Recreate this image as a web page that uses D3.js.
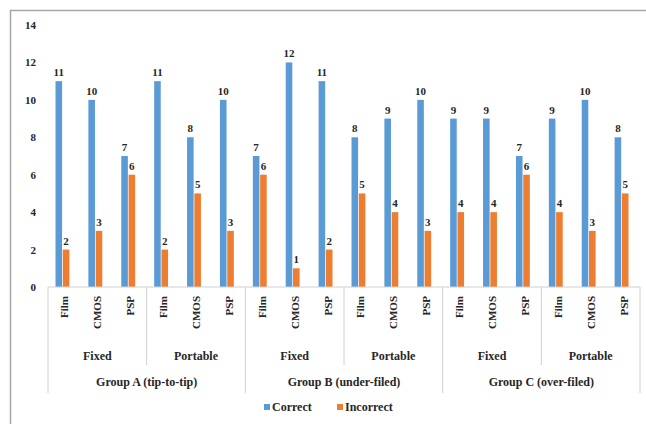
<!DOCTYPE html>
<html>
<head>
<meta charset="utf-8">
<script src="https://cdn.jsdelivr.net/npm/d3@7"></script>
<style>
  body { margin: 0; background: #fff; }
</style>
</head>
<body>
<div id="chart"></div>
<script>
const groups = ["Group A (tip-to-tip)", "Group B (under-filed)", "Group C (over-filed)"];
const setups = ["Fixed", "Portable"];
const detectors = ["Film", "CMOS", "PSP"];
const correct = [11, 10, 7, 11, 8, 10, 7, 12, 11, 8, 9, 10, 9, 9, 7, 9, 10, 8];
const incorrect = [2, 3, 6, 2, 5, 3, 6, 1, 2, 5, 4, 3, 4, 4, 6, 4, 3, 5];
const series = ["Correct", "Incorrect"];
const colors = ["#5b9bd5", "#ed7d31"];
const yTicks = [0, 2, 4, 6, 8, 10, 12, 14];

const width = 646;
const height = 424;
const margin = { top: 25, right: 6, bottom: 137, left: 48 };
const font = "'Times New Roman', 'Liberation Serif', Tinos, 'DejaVu Serif', serif";

const cats = [];
groups.forEach(g => setups.forEach(s => detectors.forEach(d => cats.push({ g, s, d }))));
cats.forEach((c, i) => { c.i = i; c.vals = [correct[i], incorrect[i]]; });

const svg = d3.select("#chart").append("svg")
    .attr("width", width).attr("height", height)
    .style("font-family", font).attr("font-weight", "bold");

// outer frame
svg.append("rect").attr("x", 10.5).attr("y", 10.5).attr("width", width).attr("height", height)
    .attr("fill", "none").attr("stroke", "#a6a6a6").attr("stroke-width", 1.5);

const x = d3.scaleBand().domain(d3.range(cats.length)).range([margin.left, width - margin.right]);
const xs = d3.scaleBand().domain(series).range([0, x.bandwidth()]).paddingInner(0.1).paddingOuter(1.3);
const y = d3.scaleLinear().domain([0, 14]).range([height - margin.bottom, margin.top]);
const y0 = y(0);

svg.append("g").attr("transform", `translate(36,0)`)
    .call(d3.axisLeft(y).tickValues(yTicks).tickSize(0))
    .attr("font-family", null)
    .call(g => g.select(".domain").remove())
    .call(g => g.selectAll("text").attr("font-size", 11).attr("x", 0).attr("fill", "#262626"));

const cg = svg.append("g").selectAll("g").data(cats).join("g")
    .attr("transform", d => `translate(${x(d.i)},0)`);

cg.selectAll("rect").data(d => d.vals.map((v, k) => ({ v, k }))).join("rect")
    .attr("x", d => xs(series[d.k]) - 2)
    .attr("width", xs.bandwidth())
    .attr("y", d => y(d.v))
    .attr("height", d => y0 - y(d.v))
    .attr("fill", d => colors[d.k]);

cg.selectAll("text.val").data(d => d.vals.map((v, k) => ({ v, k }))).join("text")
    .attr("class", "val")
    .attr("x", d => xs(series[d.k]) - 2 + xs.bandwidth() / 2)
    .attr("y", d => y(d.v) - 5)
    .attr("text-anchor", "middle")
    .attr("font-size", 11).attr("fill", "#262626")
    .text(d => d.v);

// category axis
const axisColor = "#d0d0d0";
svg.append("line").attr("x1", margin.left).attr("x2", width - margin.right)
    .attr("y1", y0).attr("y2", y0).attr("stroke", axisColor);

cg.append("text")
    .attr("transform", d => `translate(${x.bandwidth() / 2 + 4},${y0 + 9}) rotate(-90)`)
    .attr("text-anchor", "end")
    .attr("font-size", 11).attr("fill", "#262626")
    .text(d => d.d);

const setupW = x.bandwidth() * detectors.length;
const sub = [];
groups.forEach((g, gi) => setups.forEach((s, si) => sub.push({ s, start: (gi * setups.length + si) * detectors.length })));

sub.forEach(d => {
    const x1 = x(d.start);
    svg.append("text").attr("x", x1 + setupW / 2).attr("y", y0 + 73)
        .attr("text-anchor", "middle").attr("font-size", 12).attr("fill", "#262626").text(d.s);
    if (d.start % 6 !== 0) {
        svg.append("line").attr("x1", x1).attr("x2", x1).attr("y1", y0).attr("y2", y0 + 78)
            .attr("stroke", axisColor);
    }
});

const groupW = setupW * setups.length;
groups.forEach((g, gi) => {
    const x1 = x(gi * 6);
    svg.append("text").attr("x", x1 + groupW / 2).attr("y", y0 + 99)
        .attr("text-anchor", "middle").attr("font-size", 12).attr("fill", "#262626").text(g);
    svg.append("line").attr("x1", x1).attr("x2", x1).attr("y1", y0).attr("y2", y0 + 106)
        .attr("stroke", axisColor);
});
svg.append("line").attr("x1", width - margin.right).attr("x2", width - margin.right)
    .attr("y1", y0).attr("y2", y0 + 106).attr("stroke", axisColor);

// legend
const legend = svg.append("g").attr("transform", "translate(264,411)");
const lx = [0, 73];
series.forEach((s, k) => {
    const lg = legend.append("g").attr("transform", `translate(${lx[k]},0)`);
    lg.append("rect").attr("x", 0).attr("y", -7).attr("width", 6).attr("height", 6).attr("fill", colors[k]);
    lg.append("text").attr("x", 8).attr("y", 0).attr("font-size", 12).attr("fill", "#262626").text(s);
});
</script>
</body>
</html>
